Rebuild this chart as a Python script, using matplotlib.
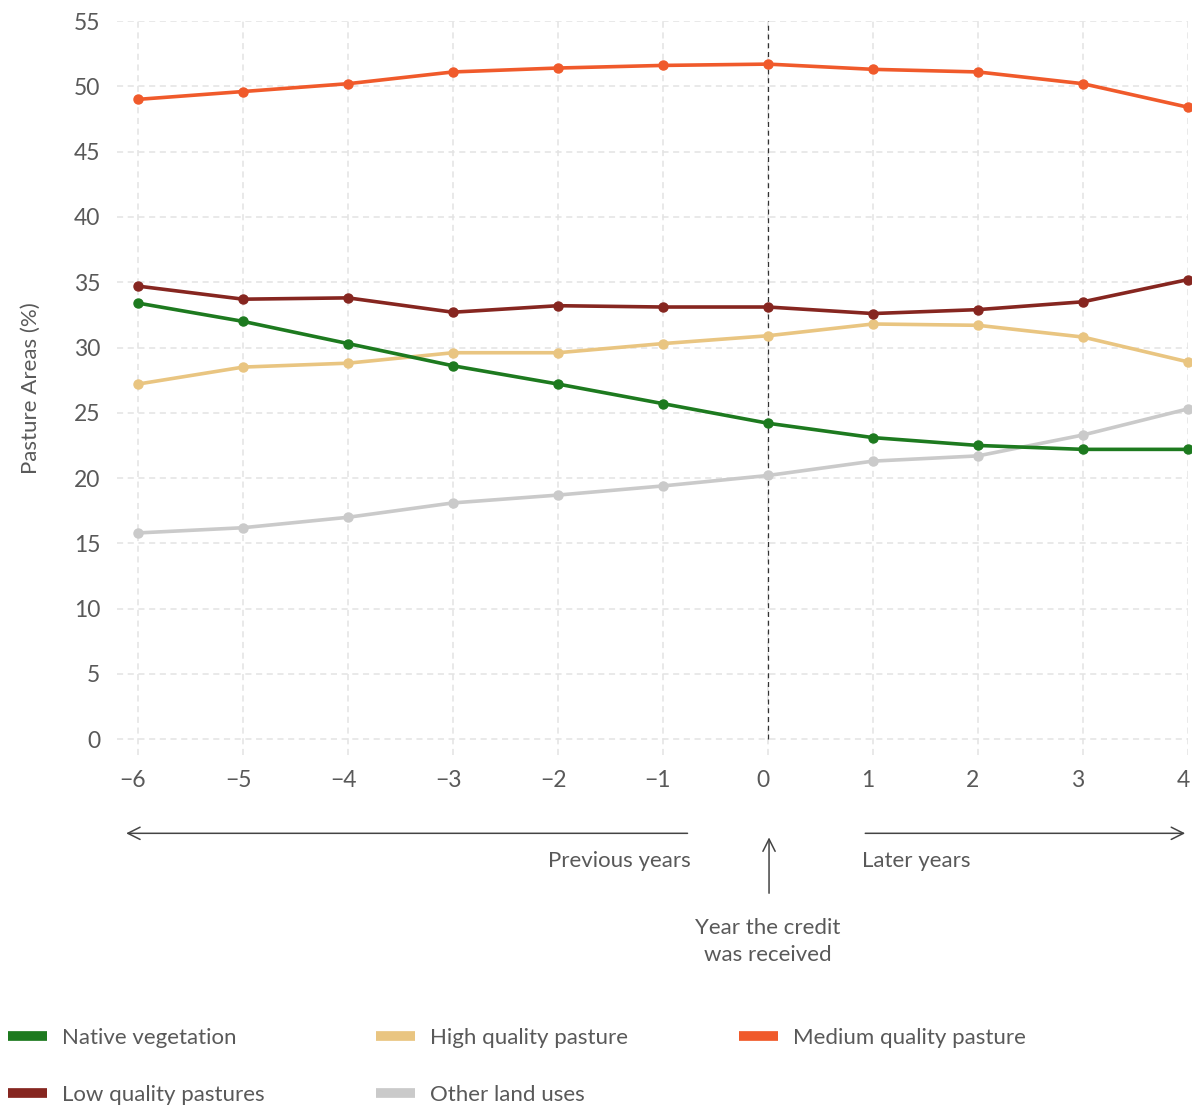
import matplotlib.pyplot as plt
import matplotlib.transforms as mtransforms
from matplotlib.lines import Line2D

plt.rcParams['font.family'] = ['Lato', 'DejaVu Sans']

years = [-6, -5, -4, -3, -2, -1, 0, 1, 2, 3, 4]
native = [33.4, 32.0, 30.3, 28.6, 27.2, 25.7, 24.2, 23.1, 22.5, 22.2, 22.2]
high = [27.2, 28.5, 28.8, 29.6, 29.6, 30.3, 30.9, 31.8, 31.7, 30.8, 28.9]
medium = [49.0, 49.6, 50.2, 51.1, 51.4, 51.6, 51.7, 51.3, 51.1, 50.2, 48.4]
low = [34.7, 33.7, 33.8, 32.7, 33.2, 33.1, 33.1, 32.6, 32.9, 33.5, 35.2]
other = [15.8, 16.2, 17.0, 18.1, 18.7, 19.4, 20.2, 21.3, 21.7, 23.3, 25.3]

series = [
    ("Native vegetation", native, "#1d7a1f"),
    ("Low quality pastures", low, "#862620"),
    ("High quality pasture", high, "#e9c581"),
    ("Other land uses", other, "#cacaca"),
    ("Medium quality pasture", medium, "#f05a2b"),
]

grey = "#595959"
fig = plt.figure(figsize=(11.92, 11.06), dpi=100)
ax = fig.add_axes([0.0982, 0.3174, 0.8984, 0.6636])

draw_order = [3, 2, 0, 1, 4]
for i in draw_order:
    name, vals, col = series[i]
    ax.plot(years, vals, color=col, lw=2.6, marker="o", ms=6.5, clip_on=False, zorder=3)

ax.axvline(0, ymin=(0 + 1.2) / 56.2, ymax=1, color="#333333", lw=0.9, ls=(0, (4, 3)), zorder=2)

ax.set_xlim(-6.2, 4.0)
ax.set_ylim(-1.2, 55)
ax.set_xticks(years)
ax.set_xticklabels([str(y).replace("-", "\u2212") for y in years])
ax.set_yticks(range(0, 56, 5))
ax.grid(True, color="#e3e3e3", ls=(0, (4, 3)), lw=1.1)
for s in ax.spines.values():
    s.set_visible(False)
ax.tick_params(length=0, labelsize=16.5, colors=grey)
ax.tick_params(axis="y", pad=12)
ax.tick_params(axis="x", pad=11)
shift = mtransforms.ScaledTranslation(-5 / 100, 0, fig.dpi_scale_trans)
for lab in ax.get_xticklabels():
    lab.set_transform(lab.get_transform() + shift)
ax.set_ylabel("Pasture Areas (%)", fontsize=16, color=grey, labelpad=24)

arrow = dict(arrowstyle="->", color="#444444", lw=1.1, mutation_scale=22)
ax.annotate("", xy=(-6.14, -7.2), xytext=(-0.74, -7.2), arrowprops=arrow, annotation_clip=False)
ax.annotate("", xy=(4.0, -7.2), xytext=(0.9, -7.2), arrowprops=arrow, annotation_clip=False)
ax.annotate("", xy=(0.01, -7.3), xytext=(0.01, -12.0), arrowprops=arrow, annotation_clip=False)
ax.text(-0.74, -9.3, "Previous years", ha="right", va="center", fontsize=16, color=grey)
ax.text(0.9, -9.3, "Later years", ha="left", va="center", fontsize=16, color=grey)
ax.text(0.0, -15.5, "Year the credit\nwas received", ha="center", va="center",
        fontsize=16, color=grey, linespacing=1.45)

handles = [Line2D([0], [0], color=c, lw=7, solid_capstyle="butt") for _, _, c in series]
labels = [n for n, _, _ in series]
leg = fig.legend(handles, labels, ncol=3, loc="lower left", bbox_to_anchor=(0.0067, 0.001),
                 borderaxespad=0, borderpad=0,
                 frameon=False, fontsize=16, handlelength=1.75, handletextpad=0.68,
                 columnspacing=5.0, labelspacing=1.65, labelcolor=grey)

fig.savefig("out.png", dpi=100)
